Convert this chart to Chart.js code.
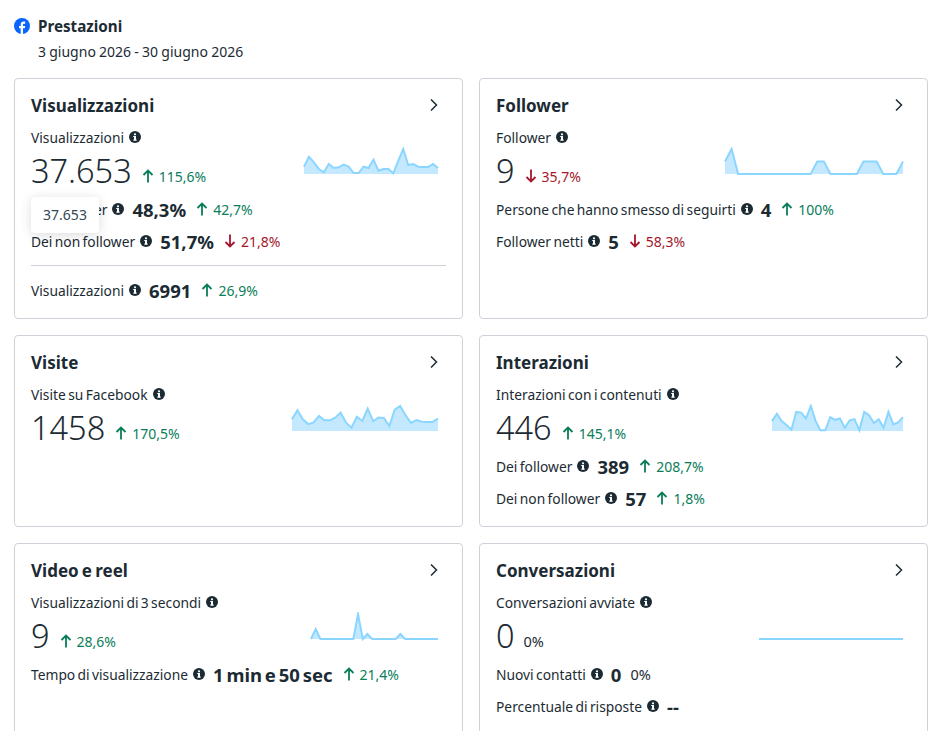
<!DOCTYPE html>
<html lang="it">
<head>
<meta charset="utf-8">
<title>Prestazioni</title>
<script src="https://cdn.jsdelivr.net/npm/chart.js@4"></script>
<style>
  html, body { margin: 0; padding: 0; background: #fff; }
  body { width: 930px; height: 731px; overflow: hidden; position: relative; font-family: "Noto Sans", sans-serif; color: #1c2b33; }
  .card { position: absolute; box-sizing: border-box; width: 449px; border: 1px solid #ced3d9; border-radius: 4px; }
  .row { position: absolute; height: 0; display: flex; align-items: center; white-space: nowrap; font-size: 13.8px; word-spacing: -1.2px; }
  .top { transform: translateY(-0.6px); }
  .h { font-size: 17px; font-weight: 700; }
  .big { font-size: 32.5px; font-weight: 300; word-spacing: 0; }
  .val { font-size: 18.5px; font-weight: 700; margin-left: 8px; word-spacing: -2px; }
  .g, .r { font-size: 14px; margin-left: 5px; }
  .g { color: #0a7d5a; }
  .r { color: #a4172c; }
  .low { position: relative; top: 6px; }
  .inf { width: 12px; height: 12px; margin-left: 5px; flex: none; background: url("data:image/svg+xml,%3Csvg xmlns='http://www.w3.org/2000/svg' viewBox='0 0 12 12'%3E%3Ccircle cx='6' cy='6' r='6' fill='%231c2b33'/%3E%3Crect x='5' y='5' width='2' height='4.5' fill='%23fff'/%3E%3Crect x='4.2' y='5' width='1.5' height='1' fill='%23fff'/%3E%3Crect x='4.2' y='8.6' width='3.6' height='1' fill='%23fff'/%3E%3Ccircle cx='6' cy='3.3' r='1.1' fill='%23fff'/%3E%3C/svg%3E"); }
  .up, .dn { width: 12px; height: 14px; flex: none; margin-left: 10px; }
  .up { background: url("data:image/svg+xml,%3Csvg xmlns='http://www.w3.org/2000/svg' viewBox='0 0 12 14'%3E%3Cpath d='M6 13.500V1.500M1.500 6 6 1.500 10.500 6' fill='none' stroke='%230a7d5a' stroke-width='1.800'/%3E%3C/svg%3E"); }
  .dn { background: url("data:image/svg+xml,%3Csvg xmlns='http://www.w3.org/2000/svg' viewBox='0 0 12 14'%3E%3Cpath d='M6 .500V12.500M1.500 8 6 12.500 10.500 8' fill='none' stroke='%23a4172c' stroke-width='1.800'/%3E%3C/svg%3E"); }
  .chev { position: absolute; width: 8px; height: 14px; }
  .spark { position: absolute; }
  .tip { position: absolute; left: 31px; top: 197px; width: 68px; height: 36px; background: #fff; border-radius: 4px; box-shadow: 0 2px 12px rgba(0,0,0,.14); font-size: 14px; line-height: 36px; text-align: center; color: #344854; }
  .line { position: absolute; left: 31px; top: 265px; width: 415px; height: 1px; background: #ced3d9; }
</style>
</head>
<body>
<svg style="position:absolute;left:14px;top:18px" width="16" height="16" viewBox="0 0 16 16"><circle cx="8" cy="8" r="8" fill="#0866ff"/><path d="M6.700 16V10.300H5V8h1.700V6.700C6.700 4.700 7.800 3.500 9.700 3.500c.6 0 1.200.1 1.500.2v2H10.200c-.9 0-1.200.5-1.200 1.200V8h2.200l-.4 2.300H9V16z" fill="#fff"/></svg>
<div class="row top" style="left:38px;top:27px;font-size:15.200px;font-weight:700">Prestazioni</div>
<div class="row top" style="left:38px;top:52px;font-size:14px;word-spacing:-.4px">3 giugno 2026 - 30 giugno 2026</div>

<div class="card" style="left:14px;top:78px;height:241px"></div>
<div class="card" style="left:479px;top:78px;height:241px"></div>
<div class="card" style="left:14px;top:335px;height:192px"></div>
<div class="card" style="left:479px;top:335px;height:192px"></div>
<div class="card" style="left:14px;top:543px;height:210px"></div>
<div class="card" style="left:479px;top:543px;height:210px"></div>

<svg class="chev" style="left:430px;top:98px" viewBox="0 0 8 14"><path d="M1 1.500 6.500 7 1 12.500" fill="none" stroke="#1c2b33" stroke-width="1.500"/></svg>
<svg class="chev" style="left:895px;top:98px" viewBox="0 0 8 14"><path d="M1 1.500 6.500 7 1 12.500" fill="none" stroke="#1c2b33" stroke-width="1.500"/></svg>
<svg class="chev" style="left:430px;top:355px" viewBox="0 0 8 14"><path d="M1 1.500 6.500 7 1 12.500" fill="none" stroke="#1c2b33" stroke-width="1.500"/></svg>
<svg class="chev" style="left:895px;top:355px" viewBox="0 0 8 14"><path d="M1 1.500 6.500 7 1 12.500" fill="none" stroke="#1c2b33" stroke-width="1.500"/></svg>
<svg class="chev" style="left:430px;top:563px" viewBox="0 0 8 14"><path d="M1 1.500 6.500 7 1 12.500" fill="none" stroke="#1c2b33" stroke-width="1.500"/></svg>
<svg class="chev" style="left:895px;top:563px" viewBox="0 0 8 14"><path d="M1 1.500 6.500 7 1 12.500" fill="none" stroke="#1c2b33" stroke-width="1.500"/></svg>

<!-- Visualizzazioni -->
<div class="row h" style="left:31px;top:105px">Visualizzazioni</div>
<div class="row" style="left:31px;top:137px">Visualizzazioni<i class="inf"></i></div>
<div class="row" style="left:31px;top:170px"><span class="big">37.653</span><i class="up low"></i><span class="g low">115,6%</span></div>
<div class="row" style="left:31px;top:209px">Dei follower<i class="inf"></i><span class="val">48,3%</span><i class="up"></i><span class="g">42,7%</span></div>
<div class="row" style="left:31px;top:241px">Dei non follower<i class="inf"></i><span class="val">51,7%</span><i class="dn"></i><span class="r">21,8%</span></div>
<div class="line"></div>
<div class="row" style="left:31px;top:290px">Visualizzazioni<i class="inf"></i><span class="val">6991</span><i class="up"></i><span class="g">26,9%</span></div>
<div class="tip">37.653</div>

<!-- Follower -->
<div class="row h" style="left:496px;top:105px">Follower</div>
<div class="row" style="left:496px;top:137px">Follower<i class="inf"></i></div>
<div class="row" style="left:496px;top:170px"><span class="big">9</span><i class="dn low"></i><span class="r low">35,7%</span></div>
<div class="row" style="left:496px;top:209px">Persone che hanno smesso di seguirti<i class="inf"></i><span class="val">4</span><i class="up"></i><span class="g">100%</span></div>
<div class="row" style="left:496px;top:241px">Follower netti<i class="inf"></i><span class="val">5</span><i class="dn"></i><span class="r">58,3%</span></div>

<!-- Visite -->
<div class="row h" style="left:31px;top:362px">Visite</div>
<div class="row" style="left:31px;top:394px">Visite su Facebook<i class="inf"></i></div>
<div class="row" style="left:31px;top:427px"><span class="big">1458</span><i class="up low"></i><span class="g low">170,5%</span></div>

<!-- Interazioni -->
<div class="row h" style="left:496px;top:362px">Interazioni</div>
<div class="row" style="left:496px;top:394px">Interazioni con i contenuti<i class="inf"></i></div>
<div class="row" style="left:496px;top:427px"><span class="big">446</span><i class="up low"></i><span class="g low">145,1%</span></div>
<div class="row" style="left:496px;top:466px">Dei follower<i class="inf"></i><span class="val">389</span><i class="up"></i><span class="g">208,7%</span></div>
<div class="row" style="left:496px;top:498px">Dei non follower<i class="inf"></i><span class="val">57</span><i class="up"></i><span class="g">1,8%</span></div>

<!-- Video e reel -->
<div class="row h" style="left:31px;top:570px">Video e reel</div>
<div class="row" style="left:31px;top:602px">Visualizzazioni di 3 secondi<i class="inf"></i></div>
<div class="row" style="left:31px;top:635px"><span class="big">9</span><i class="up low"></i><span class="g low">28,6%</span></div>
<div class="row" style="left:31px;top:674px">Tempo di visualizzazione<i class="inf"></i><span class="val">1 min e 50 sec</span><i class="up"></i><span class="g">21,4%</span></div>

<!-- Conversazioni -->
<div class="row h" style="left:496px;top:570px">Conversazioni</div>
<div class="row" style="left:496px;top:602px">Conversazioni avviate<i class="inf"></i></div>
<div class="row" style="left:496px;top:635px"><span class="big">0</span><span class="low" style="margin-left:9px;font-size:14.500px">0%</span></div>
<div class="row" style="left:496px;top:674px">Nuovi contatti<i class="inf"></i><span class="val">0</span><span style="margin-left:9px;font-size:14.500px">0%</span></div>
<div class="row" style="left:496px;top:706px">Percentuale di risposte<i class="inf"></i><span class="val">--</span></div>

<canvas id="sparkViews" class="spark"></canvas>
<canvas id="sparkFollowers" class="spark"></canvas>
<canvas id="sparkVisits" class="spark"></canvas>
<canvas id="sparkInteractions" class="spark"></canvas>
<canvas id="sparkVideo" class="spark"></canvas>
<canvas id="sparkChats" class="spark"></canvas>

<script>
const days = ["3","4","5","6","7","8","9","10","11","12","13","14","15","16","17","18","19","20","21","22","23","24","25","26","27","28","29","30"];

const views = [1254,2964,1995,855,285,1710,1026,1140,1596,1254,171,171,1254,1026,2451,570,855,855,114,2280,4275,1539,1710,1254,1197,1197,1710,1026];
const followers = [1,2,0,0,0,0,0,0,0,0,0,0,0,0,1,1,0,0,0,0,0,1,1,1,0,0,0,1];
const visits = [49,87,49,29,36,63,45,45,56,77,35,14,60,42,94,41,57,55,21,90,105,66,34,46,39,38,38,52];
const interactions = [15,26,15,9,2,29,28,19,38,15,1,1,21,17,19,5,16,18,1,29,24,12,18,5,29,10,13,21];
const video = [0,2,0,0,0,0,0,0,0,0,5,0,1,0,0,0,0,0,0,1,0,0,0,0,0,0,0,0];
const chats = [0,0,0,0,0,0,0,0,0,0,0,0,0,0,0,0,0,0,0,0,0,0,0,0,0,0,0,0];

function spark(id, data, left, right, base, yMax) {
  const pad = 2;
  const el = document.getElementById(id);
  el.style.left = (left - pad) + "px";
  el.style.top = (base - 25 - pad) + "px";
  el.style.width = (right - left + pad * 2) + "px";
  el.style.height = (25 + pad * 2) + "px";
  el.width = right - left + pad * 2;
  el.height = 25 + pad * 2;
  new Chart(el, {
    type: "line",
    data: {
      labels: days,
      datasets: [{
        data: data,
        borderColor: "#8ad6ff",
        backgroundColor: "#c4e9ff",
        borderWidth: 2,
        pointRadius: 0,
        tension: 0,
        fill: "origin",
        clip: false
      }]
    },
    options: {
      responsive: false,
      animation: false,
      layout: { padding: pad },
      plugins: { legend: { display: false }, tooltip: { enabled: false } },
      scales: {
        x: { display: false },
        y: { display: false, min: 0, max: yMax }
      }
    }
  });
}

spark("sparkViews", views, 304, 438, 174, 4275);
spark("sparkFollowers", followers, 725, 903, 174, 2);
spark("sparkVisits", visits, 292, 438, 431, 105);
spark("sparkInteractions", interactions, 772, 903, 431, 38);
spark("sparkVideo", video, 311, 438, 639, 5);
spark("sparkChats", chats, 759, 903, 639, 1);
</script>
</body>
</html>
